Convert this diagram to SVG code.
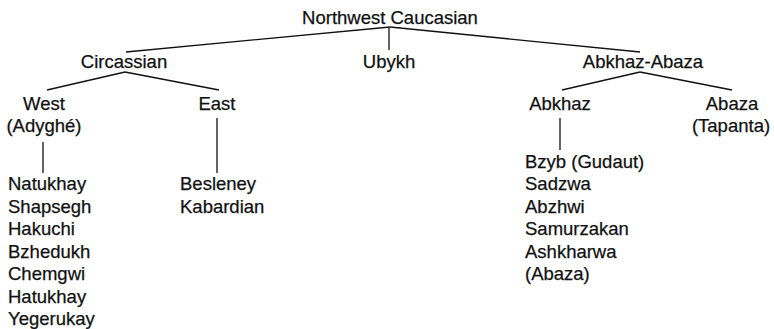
<svg xmlns="http://www.w3.org/2000/svg" width="774" height="329" viewBox="0 0 774 329">
<style>
text{font-family:"Liberation Sans",Arial,Helvetica,sans-serif;font-size:18.5px;fill:#111;stroke:#111;stroke-width:0.25}
.m{text-anchor:middle}
#connectors line{stroke:#111;stroke-width:1.3;fill:none}
</style>
<rect width="774" height="329" fill="#fff"/>
<g id="connectors">
<line x1="390" y1="27" x2="126" y2="52"/>
<line x1="390" y1="27" x2="640" y2="52"/>
<line x1="389" y1="28" x2="389" y2="50"/>
<line x1="125" y1="72" x2="47" y2="90"/>
<line x1="125" y1="72" x2="219" y2="90"/>
<line x1="640" y1="72" x2="562" y2="90"/>
<line x1="640" y1="72" x2="732" y2="90"/>
<line x1="43" y1="142" x2="43" y2="173"/>
<line x1="217" y1="118" x2="217" y2="173"/>
<line x1="560" y1="118" x2="560" y2="150"/>
</g>
<g id="northwest-caucasian"><text class="m" x="390" y="24">Northwest Caucasian</text></g>
<g id="circassian"><text class="m" x="124" y="68">Circassian</text></g>
<g id="ubykh"><text class="m" x="389" y="68">Ubykh</text></g>
<g id="abkhaz-abaza"><text class="m" x="643" y="68">Abkhaz-Abaza</text></g>
<g id="west"><text class="m" x="44" y="110">West</text><text class="m" x="44" y="132">(Adyghé)</text></g>
<g id="east"><text class="m" x="217" y="110">East</text></g>
<g id="abkhaz"><text class="m" x="560" y="110">Abkhaz</text></g>
<g id="abaza"><text class="m" x="732" y="110">Abaza</text><text class="m" x="731" y="132">(Tapanta)</text></g>
<g id="west-dialects">
<text x="8" y="190">Natukhay</text>
<text x="8" y="212.5">Shapsegh</text>
<text x="8" y="235">Hakuchi</text>
<text x="8" y="257.5">Bzhedukh</text>
<text x="8" y="280">Chemgwi</text>
<text x="8" y="302.5">Hatukhay</text>
<text x="8" y="325">Yegerukay</text>
</g>
<g id="east-dialects">
<text x="180" y="190">Besleney</text>
<text x="180" y="212.5">Kabardian</text>
</g>
<g id="abkhaz-dialects">
<text x="525" y="168">Bzyb (Gudaut)</text>
<text x="525" y="190">Sadzwa</text>
<text x="525" y="212.5">Abzhwi</text>
<text x="525" y="235">Samurzakan</text>
<text x="525" y="257.5">Ashkharwa</text>
<text x="525" y="280">(Abaza)</text>
</g>
</svg>
